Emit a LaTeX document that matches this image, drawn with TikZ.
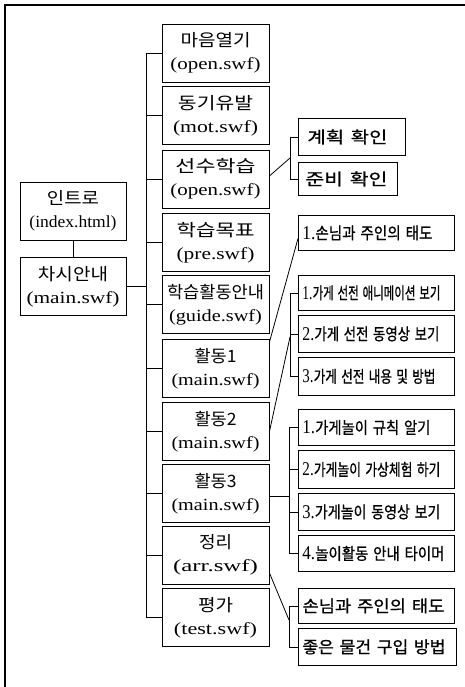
\documentclass[tikz,border=0pt]{standalone}
\usepackage{fontspec}
\usepackage{graphicx}
\setmainfont{Liberation Serif}
\newfontfamily\kr{Noto Sans CJK KR}
\newfontfamily\krb{Noto Sans CJK KR}[FakeBold=0.8]
\newcommand\fw[2]{\resizebox{#1pt}{\height}{#2}}
\newcommand\dg[1]{{\rmfamily\fontsize{19.5}{18}\selectfont #1}}
\begin{document}
\begin{tikzpicture}[x=1pt,y=-1pt,
  colbox/.style={draw, line width=0.9pt, minimum width=107pt, minimum height=58pt,
    inner sep=0pt, align=center, font=\fontsize{17}{23}\selectfont},
  sub/.style={draw, line width=0.9pt, inner xsep=4pt, inner ysep=0pt, align=left,
    anchor=north west, font=\krb\fontsize{16.5}{18}\selectfont},
  conn/.style={line width=0.8pt}]
\useasboundingbox (0,0) rectangle (465,687);
\fill[white] (0,0) rectangle (465,687);
% outer frame (top and left visible)
\draw[line width=1.3pt] (5,687) -- (5,5) -- (465,5);

% left boxes
\node[colbox, minimum width=106pt] (intro) at (73,211) {\fw{52}{\kr 인트로}\\\fw{87}{(index.html)}};
\node[colbox, minimum width=106pt] (chasi) at (73,286.5) {\fw{70}{\kr 차시안내}\\\fw{93}{(main.swf)}};

% main column
\node[colbox] (n1) at (215.5,53) {\fw{70}{\kr 마음열기}\\\fw{90}{(open.swf)}};
\node[colbox] (n2) at (215.5,115.5) {\fw{75}{\kr 동기유발}\\\fw{85}{(mot.swf)}};
\node[colbox] (n3) at (215.5,179) {\fw{80}{\kr 선수학습}\\\fw{90}{(open.swf)}};
\node[colbox] (n4) at (215.5,242.5) {\fw{78}{\kr 학습목표}\\\fw{78}{(pre.swf)}};
\node[colbox] (n5) at (215.5,304.5) {\fw{97}{\kr 학습활동안내}\\\fw{93}{(guide.swf)}};
\node[colbox] (n6) at (215.5,368.5) {\fw{42}{\kr 활동1}\\\fw{88}{(main.swf)}};
\node[colbox] (n7) at (215.5,431.5) {\fw{42}{\kr 활동2}\\\fw{88}{(main.swf)}};
\node[colbox] (n8) at (215.5,493.5) {\fw{42}{\kr 활동3}\\\fw{88}{(main.swf)}};
\node[colbox] (n9) at (215.5,555) {\fw{33}{\kr 정리}\\\fw{85}{(arr.swf)}};
\node[colbox] (n10) at (215.5,617.5) {\fw{35}{\kr 평가}\\\fw{83}{(test.swf)}};

% right sub boxes
\node[sub, text width=99pt, minimum height=37pt] (a1) at (298,118) {\hspace*{5pt}\fw{80}{계획 확인}};
\node[sub, text width=91pt, minimum height=33pt] (a2) at (298,162) {\hspace*{3pt}\fw{82}{준비 확인}};

\node[sub, text width=148pt, minimum height=35pt] (s1) at (298,215) {\fw{130}{\dg{1.}손님과 주인의 태도}};

\node[sub, text width=148pt, minimum height=35pt] (b1) at (298,275) {\fw{138}{\dg{1.}가게 선전 애니메이션 보기}};
\node[sub, text width=148pt, minimum height=37pt] (b2) at (298,315) {\fw{137}{\dg{2.}가게 선전 동영상 보기}};
\node[sub, text width=148pt, minimum height=38pt] (b3) at (298,357) {\fw{133}{\dg{3.}가게 선전 내용 및 방법}};

\node[sub, text width=148pt, minimum height=36pt] (c1) at (298,409) {\fw{128}{\dg{1.}가게놀이 규칙 알기}};
\node[sub, text width=148pt, minimum height=38pt] (c2) at (298,450) {\fw{138}{\dg{2.}가게놀이 가상체험 하기}};
\node[sub, text width=148pt, minimum height=37pt] (c3) at (298,493) {\fw{138}{\dg{3.}가게놀이 동영상 보기}};
\node[sub, text width=148pt, minimum height=36pt] (c4) at (298,535) {\fw{142}{\dg{4.}놀이활동 안내 타이머}};

\node[sub, text width=148pt, minimum height=35pt] (d1) at (298,588) {\fw{142}{손님과 주인의 태도}};
\node[sub, text width=150pt, minimum height=37pt] (d2) at (298,628) {\fw{143}{좋은 물건 구입 방법}};

% left connectors
\draw[conn] (intro) -- (chasi);
\coordinate (tk) at (146,0);
\draw[conn] (chasi.east) -- (chasi.east -| tk);
\draw[conn] (n1.west -| tk) -- (n10.west -| tk);
\foreach \n in {n1,n2,n3,n4,n5,n6,n7,n8,n9,n10}
  \draw[conn] (\n.west -| tk) -- (\n.west);

% bracket A
\coordinate (ka) at (290,0);
\draw[conn] (a1.west) -- (a1.west -| ka) -- (a2.west -| ka) -- (a2.west);
\coordinate (pa) at (290,158);
\draw[conn] ([yshift=3pt]n3.east) -- (pa);

% single box s1
\draw[conn] ([yshift=-3pt]n6.north east) -- ([yshift=-5.5pt]s1.west);

% bracket B
\coordinate (kb) at (290,0);
\draw[conn] (b1.west) -- (b1.west -| kb) -- (b3.west -| kb) -- (b3.west);
\draw[conn] (b2.west -| kb) -- (b2.west);
\coordinate (pb) at (290,337);
\draw[conn] (n7.east) -- (pb);

% bracket C
\coordinate (kc) at (289,0);
\draw[conn] (c1.west) -- (c1.west -| kc) -- (c4.west -| kc) -- (c4.west);
\draw[conn] (c2.west -| kc) -- (c2.west);
\draw[conn] (c3.west -| kc) -- (c3.west);
\draw[conn] ([yshift=-3pt]n8.east) -- ([yshift=-3pt]n8.east -| kc);

% bracket D
\coordinate (kd) at (289,0);
\draw[conn] (d1.west) -- (d1.west -| kd) -- (d2.west -| kd) -- (d2.west);
\coordinate (pd) at (289,620);
\draw[conn] ([yshift=-18pt]n9.east) -- (pd);
\end{tikzpicture}
\end{document}
